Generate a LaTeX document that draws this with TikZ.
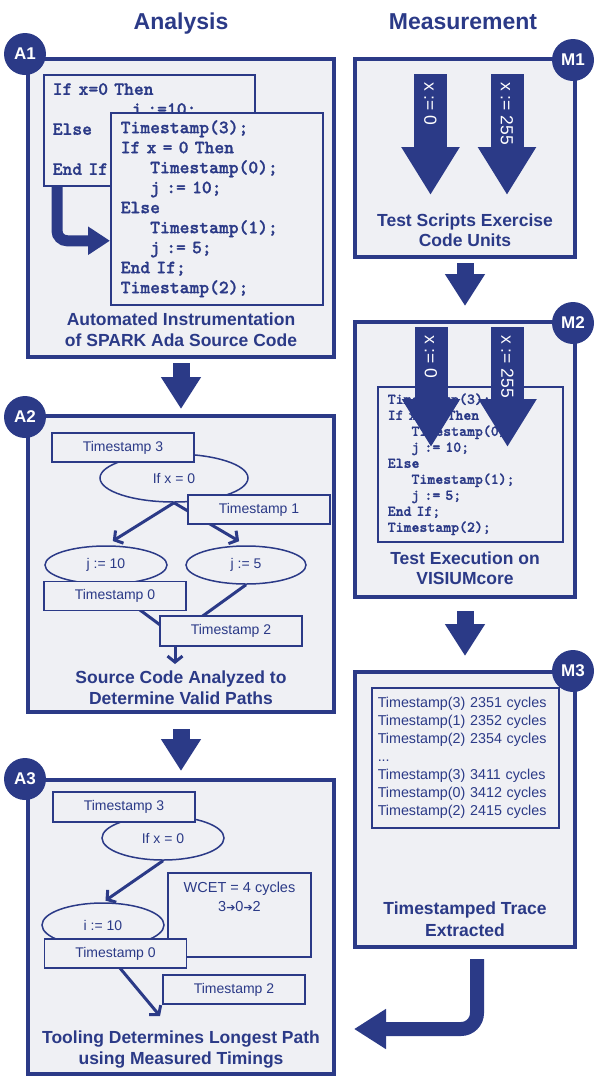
\documentclass[tikz,border=0pt]{standalone}
\usepackage{fontspec}
\setmainfont{Liberation Sans}
\newfontfamily\codefont[FakeBold=1.2]{lmmonolt10-bold.otf}
\newfontfamily\symfont{DejaVu Sans}
\usetikzlibrary{positioning, shapes.geometric, arrows.meta}

\definecolor{navy}{HTML}{2B3A87}
\definecolor{panel}{HTML}{EFF0F4}

\begin{document}
\begin{tikzpicture}[
    x=1pt, y=-1pt,
    panelbox/.style={
        rectangle,
        draw=navy,
        line width=4pt,
        fill=panel,
        inner sep=0pt
    },
    badge/.style={
        circle,
        fill=navy,
        text=white,
        minimum size=42pt,
        inner sep=0pt,
        font=\fontsize{17}{17}\selectfont\bfseries
    },
    heading/.style={
        text=navy,
        inner sep=0pt,
        font=\fontsize{23}{23}\selectfont\bfseries
    },
    caption/.style={
        text=navy,
        align=center,
        inner sep=0pt,
        font=\fontsize{17.5}{21}\selectfont\bfseries
    },
    tbox/.style={
        rectangle,
        draw=navy,
        line width=1.5pt,
        fill=panel,
        text=navy,
        minimum width=142pt,
        minimum height=29pt,
        inner sep=0pt,
        font=\fontsize{14}{14}\selectfont
    },
    oval/.style={
        ellipse,
        draw=navy,
        line width=1.5pt,
        fill=panel,
        text=navy,
        inner sep=0pt,
        font=\fontsize{14}{14}\selectfont
    },
    codebox/.style={
        rectangle,
        draw=navy,
        line width=1.5pt,
        fill=panel,
        text=navy,
        anchor=north west,
        align=left
    },
    flow/.style={
        draw=navy,
        line width=3pt,
        -{Straight Barb[length=6pt, width=15pt]}
    },
    mergeline/.style={
        draw=navy,
        line width=3pt
    },
    bigarrow/.style={
        draw=navy,
        line width=17pt,
        -{Triangle[length=32pt, width=38pt]}
    },
    bentarrow/.style={
        draw=navy,
        line width=11pt,
        rounded corners=10pt,
        -{Triangle[length=22pt, width=27pt]}
    },
    testarrow/.style={
        draw=navy,
        line width=33pt,
        -{Triangle[length=48pt, width=55pt]}
    },
    xlabel/.style={
        text=white,
        rotate=-90,
        anchor=west,
        inner sep=0pt,
        font=\fontsize{17.5}{17.5}\selectfont
    }
    ]
    \useasboundingbox (0,0) rectangle (595,1077);

    % column headings
    \node[heading, anchor=base] (analysis) at (181,29) {Analysis};
    \node[heading, anchor=base] (measure) at (463,29) {Measurement};

    % ---------------- analysis column ----------------
    \node[panelbox, minimum width=306pt, minimum height=298pt] (a1) at (181,208) {};
    \node[panelbox, minimum width=306pt, minimum height=296pt] (a2) at (181,564) {};
    \node[panelbox, minimum width=306pt, minimum height=294pt] (a3) at (181,927) {};

    % A1: instrumentation
    \node[codebox, text width=193pt, inner xsep=9pt, minimum height=111pt,
          font=\codefont\fontsize{18.7}{20}\selectfont] (plain) at (43,74)
          {If x=0 Then\\\phantom{xxxxxxxx}j :=10;\\Else\\[20pt]End If;};
    \node[codebox, text width=192pt, inner xsep=10pt, minimum height=192pt,
          font=\codefont\fontsize{18.7}{20}\selectfont] (instr) at (110,112)
          {Timestamp(3);\\If x = 0 Then\\\phantom{xxx}Timestamp(0);\\\phantom{xxx}j := 10;\\Else\\\phantom{xxx}Timestamp(1);\\\phantom{xxx}j := 5;\\End If;\\Timestamp(2);};
    \draw[bentarrow] ([xshift=14pt]plain.south west) |- ([yshift=-32pt]instr.west);
    \node[caption, above=12pt of a1.south] (a1cap) {Automated Instrumentation\\of SPARK Ada Source Code};

    % A2: valid paths
    \node[oval, minimum width=148pt, minimum height=48pt] (if0) at (174,478) {If x = 0};
    \node[oval, minimum width=122pt, minimum height=38pt] (j10) at (106,565) {j := 10};
    \node[oval, minimum width=120pt, minimum height=38pt] (j5) at (246,565) {j := 5};
    \coordinate (merge) at (175,636);
    \coordinate (a2end) at (175,664);
    \draw[flow, shorten >=8pt] (if0.south) -- (j10.north);
    \draw[flow, shorten >=8pt] (if0.south) -- (j5.north);
    \draw[mergeline] (j10.south) -- (merge) -- (j5.south);
    \draw[flow] (merge) -- (a2end);
    \node[tbox] (ts3) at (123,447.5) {Timestamp 3};
    \node[tbox] (ts1) at (259,509.5) {Timestamp 1};
    \node[tbox] (ts0) at (115,596) {Timestamp 0};
    \node[tbox, minimum height=30pt] (ts2) at (231,631) {Timestamp 2};
    \node[caption, above=9pt of a2.south] (a2cap) {Source Code Analyzed to\\Determine Valid Paths};

    % A3: longest path
    \node[oval, minimum width=122pt, minimum height=44pt] (if0b) at (163,838) {If x = 0};
    \node[oval, minimum width=122pt, minimum height=44pt] (i10) at (103,925) {i := 10};
    \node[tbox, minimum width=143pt, minimum height=84pt] (wcet) at (239.5,915) {};
    \node[text=navy, align=center, inner sep=0pt, below=10pt of wcet.north,
          font=\fontsize{14.5}{19}\selectfont] (wcettxt)
          {WCET = 4 cycles\\3{\symfont\fontsize{11}{11}\selectfont ➔}0{\symfont\fontsize{11}{11}\selectfont ➔}2};
    \coordinate (a3end) at (160,1016);
    \draw[flow, shorten >=3pt] (if0b.south) -- (i10.north);
    \draw[flow] (i10.south) -- (a3end);
    \node[tbox, minimum height=30pt] (ts3b) at (124,807) {Timestamp 3};
    \node[tbox] (ts0b) at (115.5,953.5) {Timestamp 0};
    \node[tbox] (ts2b) at (234,989.5) {Timestamp 2};
    \node[caption, above=8pt of a3.south] (a3cap) {Tooling Determines Longest Path\\using Measured Timings};

    % ---------------- measurement column ----------------
    \node[panelbox, minimum width=220pt, minimum height=198pt] (m1) at (465,158) {};
    \node[panelbox, minimum width=220pt, minimum height=275pt] (m2) at (465,459.5) {};
    \node[panelbox, minimum width=220pt, minimum height=275pt] (m3) at (465,809.5) {};

    % M1: test scripts
    \coordinate (t1top) at (430.5,74);
    \coordinate (t1tip) at (430.5,195);
    \coordinate (t2top) at (507,74);
    \coordinate (t2tip) at (507,195);
    \draw[testarrow] (t1top) -- (t1tip);
    \draw[testarrow] (t2top) -- (t2tip);
    \node[xlabel] (t1lbl) at (430.5,82) {x := 0};
    \node[xlabel] (t2lbl) at (507,82) {x := 255};
    \node[caption, above=12pt of m1.south, font=\fontsize{17.5}{20}\selectfont\bfseries] (m1cap) {Test Scripts Exercise\\Code Units};

    % M2: execution
    \node[codebox, text width=165pt, inner xsep=10pt, minimum height=155pt,
          font=\codefont\fontsize{15.1}{16}\selectfont] (target) at (377,386)
          {Timestamp(3);\\If x = 0 Then\\\phantom{xxx}Timestamp(0);\\\phantom{xxx}j := 10;\\Else\\\phantom{xxx}Timestamp(1);\\\phantom{xxx}j := 5;\\End If;\\Timestamp(2);};
    \coordinate (e1top) at (431,327);
    \coordinate (e1tip) at (431,447);
    \coordinate (e2top) at (507.5,327);
    \coordinate (e2tip) at (507.5,447);
    \draw[testarrow] (e1top) -- (e1tip);
    \draw[testarrow] (e2top) -- (e2tip);
    \node[xlabel] (e1lbl) at (431,335) {x := 0};
    \node[xlabel] (e2lbl) at (507.5,335) {x := 255};
    \node[caption, above=14pt of m2.south, font=\fontsize{17.5}{20}\selectfont\bfseries] (m2cap) {Test Execution on\\VISIUMcore};

    % M3: trace
    \node[codebox, text width=175pt, inner xsep=6pt, minimum height=140pt,
          font=\fontsize{14.3}{18}\selectfont] (trace) at (371,687)
          {Timestamp(3) 2351 cycles\\Timestamp(1) 2352 cycles\\Timestamp(2) 2354 cycles\\...\\Timestamp(3) 3411 cycles\\Timestamp(0) 3412 cycles\\Timestamp(2) 2415 cycles};
    \node[caption, above=12pt of m3.south, font=\fontsize{17.5}{22}\selectfont\bfseries] (m3cap) {Timestamped Trace\\Extracted};

    % step arrows
    \draw[bigarrow, shorten <=4pt, shorten >=5pt] (a1.south) -- (a2.north);
    \draw[bigarrow, shorten <=15pt, shorten >=7pt] (a2.south) -- (a3.north);
    \draw[bigarrow, shorten <=4pt, shorten >=14pt] (m1.south) -- (m2.north);
    \draw[bigarrow, shorten <=12pt, shorten >=14pt] (m2.south) -- (m3.north);
    \draw[bigarrow, line width=14pt, rounded corners=16pt, shorten <=10pt]
        ([xshift=12pt]m3.south) |- ([xshift=18pt, yshift=-102pt]a3.east);

    % badges
    \node[badge] (a1tag) at ([xshift=-1pt, yshift=3pt]a1.north west) {A1};
    \node[badge] (a2tag) at ([xshift=-1pt, yshift=-3pt]a2.north west) {A2};
    \node[badge] (a3tag) at ([xshift=-1pt, yshift=-1pt]a3.north west) {A3};
    \node[badge] (m1tag) at ([xshift=-4pt, yshift=-3pt]m1.north east) {M1};
    \node[badge] (m2tag) at ([xshift=-4pt, yshift=-3pt]m2.north east) {M2};
    \node[badge] (m3tag) at ([xshift=-4pt, yshift=-1pt]m3.north east) {M3};

\end{tikzpicture}
\end{document}
